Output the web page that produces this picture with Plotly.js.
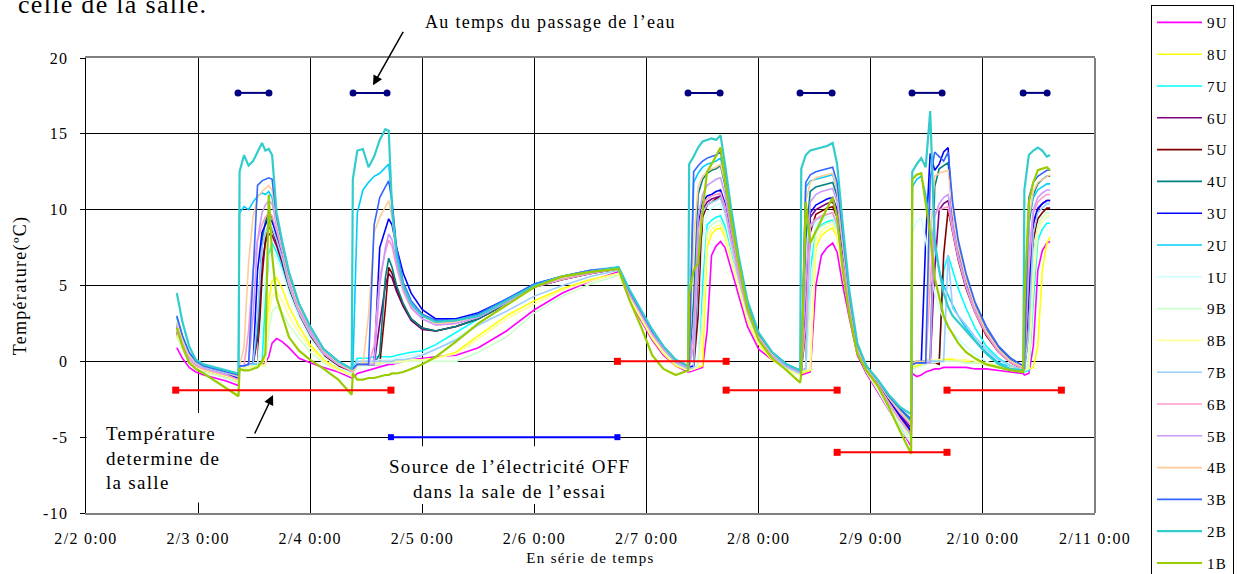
<!DOCTYPE html>
<html><head><meta charset="utf-8">
<script src="https://cdn.plot.ly/plotly-3.0.1.min.js"></script>
<style>html,body{margin:0;padding:0;background:#fff;overflow:hidden}#chart{width:1237px;height:574px}svg text{letter-spacing:1.3px}</style>
</head><body><div id="chart"></div>
<script>
// elapsed time since 2/2 0:00, in days
const elapsedDays = [
 0.81, 0.86, 0.92, 0.98, 1.05, 1.15, 1.25, 1.36,
 1.37, 1.41, 1.45, 1.49, 1.53, 1.57, 1.60, 1.63, 1.66, 1.70, 1.75, 1.81, 1.90, 2.00, 2.12, 2.25, 2.37,
 2.38, 2.42, 2.47, 2.52, 2.57, 2.62, 2.67, 2.70, 2.73, 2.77, 2.83, 2.90, 3.00, 3.12, 3.30, 3.50, 3.75, 4.00, 4.25, 4.50, 4.75,
 4.85, 4.95, 5.05, 5.15, 5.26, 5.37, 5.38, 5.42, 5.46, 5.50, 5.54, 5.58, 5.62, 5.66, 5.70, 5.75, 5.82, 5.90, 6.00, 6.12, 6.25, 6.37,
 6.38, 6.42, 6.46, 6.51, 6.56, 6.61, 6.66, 6.70, 6.75, 6.81, 6.88, 6.96, 7.06, 7.16, 7.26, 7.36,
 7.37, 7.41, 7.45, 7.49, 7.53, 7.57, 7.61, 7.65, 7.69, 7.73, 7.78, 7.85, 7.93, 8.03, 8.14, 8.25, 8.36,
 8.37, 8.41, 8.45, 8.49, 8.53, 8.57, 8.60];

const v9U = [
 0.9, 0.2, -0.4, -0.7, -0.9, -1.1, -1.3, -1.6,
 -0.4, -0.3, -0.3, -0.2, -0.2, -0.2, -0.1, 0.3, 1.2, 1.5, 1.3, 0.9, 0.2, -0.1, -0.4, -0.7, -1.1,
 -1.1, -0.8, -0.7, -0.6, -0.5, -0.4, -0.3, -0.2, -0.2, -0.1, 0.0, 0.1, 0.2, 0.3, 0.4, 0.9, 2.0, 3.4, 4.5, 5.3, 5.9,
 4.0, 2.7, 1.4, 0.4, -0.3, -0.7, -0.7, -0.6, -0.5, -0.4, 2.0, 7.0, 7.6, 7.9, 7.5, 6.2, 4.2, 2.3, 0.8, 0.1, -0.4, -0.8,
 -0.9, -0.8, -0.7, 5.0, 7.0, 7.5, 7.8, 7.2, 5.0, 2.8, 0.4, -0.8, -2.0, -3.2, -4.3, -5.6,
 -0.8, -1.0, -0.9, -0.7, -0.6, -0.5, -0.5, -0.4, -0.4, -0.4, -0.4, -0.4, -0.5, -0.5, -0.6, -0.7, -0.8,
 -0.9, -0.8, 1.0, 6.0, 7.3, 7.8, 7.9];
const v8U = [
 1.7, 0.9, 0.0, -0.4, -0.6, -0.8, -1.0, -1.3,
 -0.4, -0.3, -0.3, -0.3, -0.2, -0.2, 0.5, 4.0, 5.3, 5.5, 4.8, 3.6, 2.3, 1.1, 0.1, -0.5, -0.9,
 -0.9, -0.1, -0.1, -0.1, -0.1, 0.0, 0.0, 0.0, 0.0, 0.0, 0.0, 0.1, 0.1, 0.2, 0.6, 1.7, 3.0, 4.0, 4.8, 5.4, 5.8,
 4.1, 2.8, 1.5, 0.5, -0.3, -0.6, -0.6, -0.5, -0.4, -0.3, 7.5, 8.4, 8.7, 8.8, 8.2, 6.8, 4.8, 2.7, 1.1, 0.1, -0.5, -0.9,
 -0.8, -0.7, -0.6, 7.5, 8.3, 8.6, 8.8, 8.2, 5.9, 3.1, 0.6, -0.6, -1.7, -2.9, -4.1, -5.1,
 -0.4, -0.3, -0.2, -0.1, 0.0, 0.0, 0.0, 0.1, 0.1, 0.1, 0.0, 0.0, -0.1, -0.2, -0.3, -0.4, -0.5,
 -0.6, -0.5, -0.4, 1.0, 6.0, 7.8, 8.2];
const v7U = [
 2.5, 1.3, 0.3, -0.2, -0.4, -0.6, -0.8, -1.1,
 -0.3, -0.3, -0.2, -0.2, -0.2, -0.1, 4.0, 7.0, 7.8, 7.2, 6.2, 4.7, 3.0, 1.6, 0.4, -0.3, -0.7,
 -0.6, 0.2, 0.2, 0.2, 0.3, 0.3, 0.3, 0.3, 0.3, 0.4, 0.5, 0.6, 0.7, 1.1, 1.9, 2.8, 4.0, 5.0, 5.5, 5.9, 6.2,
 4.3, 3.0, 1.7, 0.7, -0.1, -0.5, -0.5, -0.4, -0.3, 5.0, 9.0, 9.3, 9.5, 9.6, 8.9, 7.3, 5.1, 3.0, 1.3, 0.2, -0.4, -0.8,
 -0.7, -0.6, 6.0, 8.6, 9.0, 9.2, 9.3, 8.6, 6.2, 3.3, 0.7, -0.6, -1.6, -2.8, -3.9, -4.8,
 -0.2, -0.1, 0.0, 0.0, 0.0, 0.1, 0.1, 6.0, 7.0, 6.0, 4.8, 3.5, 2.2, 1.0, 0.2, -0.3, -0.6,
 -0.7, -0.6, 4.0, 8.0, 8.7, 9.1, 9.1];
const v6U = [
 1.9, 1.0, 0.1, -0.3, -0.5, -0.7, -0.9, -1.2,
 -0.3, -0.3, -0.3, -0.2, 1.5, 6.5, 7.8, 8.4, 8.3, 7.6, 6.5, 4.9, 3.1, 1.8, 0.4, -0.3, -0.7,
 -0.7, -0.2, -0.2, -0.2, -0.2, 2.5, 5.0, 5.8, 5.5, 4.6, 3.6, 2.7, 2.1, 2.0, 2.3, 2.8, 3.8, 4.9, 5.4, 5.8, 6.1,
 4.4, 3.1, 1.8, 0.8, -0.1, -0.5, -0.5, -0.4, 6.0, 10.0, 10.5, 10.7, 10.8, 10.9, 10.0, 8.1, 5.6, 3.2, 1.5, 0.3, -0.3, -0.7,
 -0.6, 2.0, 9.5, 10.0, 10.2, 10.4, 10.5, 9.8, 7.0, 3.7, 0.8, -0.5, -1.4, -2.5, -3.5, -4.4,
 -0.2, -0.1, -0.1, -0.1, -0.1, 6.0, 10.0, 10.4, 10.6, 8.8, 6.9, 5.0, 3.3, 1.8, 0.7, -0.1, -0.5,
 -0.6, 4.0, 9.0, 10.0, 10.4, 10.6, 10.6];
const v5U = [
 1.8, 0.9, 0.0, -0.4, -0.6, -0.8, -1.0, -1.3,
 -0.4, -0.4, -0.3, -0.3, -0.3, 5.5, 8.0, 8.8, 8.7, 7.8, 6.6, 4.9, 3.1, 1.7, 0.4, -0.3, -0.7,
 -0.7, -0.2, -0.2, -0.2, -0.2, -0.2, 3.5, 6.2, 5.8, 4.8, 3.7, 2.8, 2.2, 2.0, 2.3, 2.8, 3.8, 4.9, 5.4, 5.8, 6.1,
 4.4, 3.1, 1.8, 0.8, -0.1, -0.5, -0.5, -0.4, 3.0, 9.5, 10.3, 10.5, 10.7, 10.8, 10.0, 8.0, 5.5, 3.2, 1.4, 0.3, -0.4, -0.8,
 -0.6, -0.5, 8.5, 9.7, 9.9, 10.1, 10.2, 9.5, 6.8, 3.6, 0.8, -0.5, -1.5, -2.6, -3.7, -4.7,
 -0.2, -0.1, -0.1, -0.1, -0.1, -0.1, -0.2, 7.0, 10.0, 8.5, 6.7, 4.8, 3.2, 1.7, 0.6, -0.1, -0.5,
 -0.6, 2.0, 8.0, 9.4, 9.8, 10.1, 10.1];
const v4U = [
 2.2, 1.2, 0.3, -0.1, -0.3, -0.5, -0.7, -1.0,
 -0.3, -0.3, -0.2, -0.2, 2.0, 8.0, 9.2, 9.8, 9.5, 8.2, 6.9, 5.1, 3.2, 1.9, 0.5, -0.2, -0.6,
 -0.6, -0.2, -0.2, -0.2, -0.2, 0.5, 5.5, 6.8, 6.2, 5.0, 3.8, 2.8, 2.2, 2.0, 2.3, 2.8, 3.8, 4.9, 5.4, 5.8, 6.1,
 4.5, 3.2, 1.9, 0.9, 0.0, -0.4, -0.4, 4.0, 11.0, 12.0, 12.4, 12.6, 12.7, 12.9, 11.6, 9.2, 6.3, 3.6, 1.7, 0.5, -0.2, -0.6,
 -0.5, 8.0, 11.2, 11.5, 11.6, 11.7, 11.8, 10.9, 7.6, 4.0, 0.9, -0.3, -1.2, -2.3, -3.2, -3.9,
 -0.1, 0.0, 0.0, 0.0, 0.1, 11.5, 12.7, 12.9, 13.1, 10.0, 7.6, 5.5, 3.7, 2.1, 0.9, 0.1, -0.4,
 -0.5, 9.0, 11.0, 11.7, 12.0, 12.2, 12.2];
const v3U = [
 2.3, 1.2, 0.2, -0.2, -0.4, -0.6, -0.8, -1.1,
 -0.3, -0.3, -0.2, -0.2, 6.0, 8.5, 9.0, 9.5, 9.2, 8.4, 7.1, 5.3, 3.4, 2.0, 0.6, -0.2, -0.6,
 -0.6, -0.2, -0.2, -0.2, -0.2, 7.5, 8.8, 9.4, 9.0, 7.5, 5.8, 4.5, 3.4, 2.8, 2.8, 3.2, 4.1, 5.1, 5.6, 6.0, 6.2,
 4.5, 3.2, 1.9, 0.9, 0.0, -0.4, -0.4, -0.3, 9.0, 10.5, 10.9, 11.0, 11.2, 11.3, 10.4, 8.4, 5.8, 3.4, 1.6, 0.4, -0.3, -0.7,
 -0.6, 4.0, 9.8, 10.3, 10.5, 10.7, 10.8, 10.0, 7.1, 3.8, 0.9, -0.4, -1.4, -2.5, -3.6, -4.6,
 -0.2, -0.1, -0.1, 8.0, 13.7, 12.6, 13.0, 13.8, 14.1, 9.0, 7.2, 5.2, 3.5, 2.0, 0.8, 0.0, -0.4,
 -0.6, 5.0, 9.2, 10.1, 10.4, 10.6, 10.6];
const v2U = [
 2.9, 1.6, 0.5, -0.1, -0.3, -0.5, -0.7, -0.9,
 9.8, 10.2, 10.0, 10.5, 10.9, 11.1, 11.0, 11.2, 10.8, 9.0, 7.5, 5.6, 3.6, 2.2, 0.8, 0.0, -0.5,
 -0.5, 9.8, 11.3, 11.8, 12.2, 12.4, 12.8, 13.0, 10.5, 7.2, 5.0, 3.8, 3.0, 2.6, 2.7, 3.1, 4.1, 5.1, 5.6, 6.0, 6.2,
 4.6, 3.3, 2.0, 1.0, 0.1, -0.3, -0.3, 11.8, 12.4, 12.8, 13.0, 13.1, 13.2, 13.4, 12.2, 9.8, 6.6, 3.8, 1.8, 0.6, -0.2, -0.6,
 -0.5, 11.5, 11.9, 12.0, 12.1, 12.2, 12.3, 11.3, 7.9, 4.2, 1.0, -0.3, -1.3, -2.4, -3.3, -4.0,
 11.5, 12.0, 12.2, 11.0, 9.0, 7.5, 6.0, 5.0, 4.3, 3.7, 3.0, 2.2, 1.4, 0.6, -0.1, -0.4, -0.6,
 -0.5, 9.5, 10.8, 11.3, 11.5, 11.7, 11.7];
const v1U = [
 2.2, 1.1, 0.1, -0.3, -0.5, -0.7, -0.9, -1.3,
 -0.4, -0.4, -0.3, -0.3, -0.3, 3.0, 5.5, 7.0, 7.2, 6.8, 5.9, 4.5, 2.9, 1.5, 0.3, -0.4, -0.8,
 -0.8, 0.0, 0.0, 0.0, 0.0, 0.1, 0.1, 0.1, 0.1, 0.2, 0.3, 0.4, 0.5, 0.8, 1.5, 2.5, 3.8, 5.0, 5.6, 6.0, 6.3,
 4.3, 3.0, 1.7, 0.7, -0.1, -0.5, -0.5, -0.4, -0.3, 8.0, 9.8, 10.1, 10.3, 10.4, 9.6, 7.8, 5.4, 3.1, 1.4, 0.3, -0.4, -0.8,
 -0.7, -0.6, 7.0, 9.0, 9.3, 9.5, 9.6, 8.8, 6.3, 3.4, 0.7, -0.6, -1.8, -3.1, -4.2, -5.2,
 8.5, 9.2, 9.5, 8.0, 6.0, 4.5, 3.5, 2.8, 2.3, 1.9, 1.5, 1.0, 0.5, 0.0, -0.3, -0.5, -0.7,
 -0.7, 0.5, 7.0, 8.8, 9.2, 9.5, 9.5];
const v9B = [
 1.6, 0.8, -0.1, -0.5, -0.7, -0.9, -1.1, -1.4,
 -0.5, -0.5, -0.4, -0.4, -0.4, -0.3, -0.3, 2.0, 3.3, 3.6, 3.2, 2.4, 1.5, 0.6, -0.1, -0.6, -1.0,
 -1.0, -0.3, -0.3, -0.2, -0.2, -0.2, -0.1, -0.1, -0.1, -0.1, 0.0, 0.0, 0.0, 0.0, 0.0, 0.6, 1.6, 3.2, 4.3, 5.1, 5.7,
 4.2, 2.9, 1.6, 0.6, -0.2, -0.6, -0.6, -0.5, -0.4, 3.0, 8.6, 9.0, 9.2, 9.3, 8.6, 7.1, 5.0, 2.9, 1.2, 0.2, -0.5, -0.9,
 -0.7, -0.6, 4.0, 8.5, 8.9, 9.1, 9.2, 8.5, 6.1, 3.3, 0.6, -0.7, -1.9, -3.2, -4.4, -5.4,
 -0.5, -0.4, -0.3, -0.2, -0.1, -0.1, 0.0, 0.0, 0.0, 0.0, 0.0, -0.1, -0.1, -0.2, -0.4, -0.5, -0.6,
 -0.7, 0.0, 7.0, 9.0, 9.5, 9.8, 9.8];
const v8B = [
 1.8, 0.9, 0.0, -0.4, -0.6, -0.8, -1.0, -1.3,
 -0.4, -0.4, -0.4, -0.3, -0.3, -0.3, -0.2, 3.0, 4.3, 4.6, 4.0, 3.0, 1.9, 0.9, 0.0, -0.6, -0.9,
 -0.9, -0.1, -0.1, -0.1, -0.1, -0.1, 0.0, 0.0, 0.0, 0.0, 0.0, 0.1, 0.1, 0.2, 0.5, 1.5, 2.8, 3.8, 4.7, 5.3, 5.8,
 4.2, 2.9, 1.6, 0.6, -0.2, -0.6, -0.6, -0.5, -0.4, 2.0, 8.2, 8.7, 8.9, 9.0, 8.4, 6.9, 4.9, 2.8, 1.2, 0.2, -0.5, -0.9,
 -0.7, -0.6, -0.5, 8.0, 8.6, 8.9, 9.0, 8.4, 6.0, 3.2, 0.6, -0.6, -1.7, -2.9, -4.0, -5.0,
 -0.3, -0.2, -0.1, 0.0, 0.1, 0.1, 0.1, 0.2, 0.2, 0.2, 0.1, 0.1, 0.0, -0.1, -0.3, -0.4, -0.5,
 -0.6, -0.5, 5.0, 8.6, 9.2, 9.6, 9.6];
const v7B = [
 2.3, 1.2, 0.2, -0.2, -0.4, -0.6, -0.8, -1.0,
 -0.3, -0.3, -0.2, -0.2, 3.0, 7.5, 8.5, 9.0, 8.8, 8.0, 6.8, 5.0, 3.2, 1.8, 0.5, -0.2, -0.6,
 -0.6, 0.0, 0.0, 0.0, 0.0, 0.0, 0.0, 0.0, 0.0, 0.1, 0.1, 0.2, 0.4, 0.8, 1.4, 2.4, 3.3, 4.3, 5.0, 5.6, 6.0,
 4.4, 3.1, 1.8, 0.8, -0.1, -0.5, -0.5, -0.4, 7.0, 9.8, 10.3, 10.5, 10.6, 10.8, 9.9, 8.0, 5.5, 3.2, 1.4, 0.3, -0.4, -0.8,
 -0.6, -0.5, 8.8, 9.3, 9.5, 9.7, 9.8, 9.0, 6.5, 3.5, 0.8, -0.5, -1.6, -2.8, -3.9, -4.9,
 -0.2, -0.1, -0.1, 0.0, 0.0, 0.0, 0.0, 0.0, 7.0, 3.5, 3.0, 2.4, 1.6, 0.8, 0.1, -0.3, -0.6,
 -0.6, 2.0, 8.5, 9.8, 10.1, 10.4, 10.4];
const v6B = [
 2.0, 1.0, 0.1, -0.3, -0.5, -0.7, -0.9, -1.2,
 -0.3, -0.3, 2.0, 6.0, 8.0, 9.0, 9.5, 9.8, 9.6, 8.6, 7.2, 5.3, 3.3, 1.9, 0.5, -0.2, -0.7,
 -0.7, -0.2, -0.2, -0.2, 1.0, 5.5, 7.2, 8.0, 7.6, 6.2, 4.6, 3.5, 2.8, 2.4, 2.5, 2.9, 3.9, 4.9, 5.4, 5.8, 6.1,
 4.4, 3.1, 1.8, 0.8, 0.0, -0.4, -0.4, 1.0, 8.5, 10.2, 10.7, 10.9, 11.0, 11.1, 10.2, 8.2, 5.7, 3.3, 1.5, 0.4, -0.3, -0.7,
 -0.6, 2.5, 9.0, 9.4, 9.6, 9.7, 9.8, 9.0, 6.5, 3.5, 0.8, -0.5, -1.5, -2.7, -3.8, -4.8,
 -0.2, -0.1, -0.1, 0.0, 5.0, 9.8, 10.0, 10.1, 10.2, 8.6, 6.8, 4.9, 3.2, 1.8, 0.6, -0.1, -0.5,
 -0.6, 6.0, 9.8, 10.5, 10.8, 11.0, 11.0];
const v5B = [
 2.4, 1.3, 0.3, -0.1, -0.3, -0.5, -0.7, -0.9,
 -0.3, -0.3, -0.2, 3.0, 8.0, 9.8, 10.3, 10.6, 10.4, 9.0, 7.4, 5.5, 3.5, 2.0, 0.6, -0.2, -0.6,
 -0.6, -0.2, -0.2, -0.2, -0.2, 5.0, 7.5, 8.4, 8.0, 6.5, 4.8, 3.6, 2.8, 2.4, 2.5, 2.9, 3.9, 4.9, 5.5, 5.9, 6.1,
 4.5, 3.2, 1.9, 0.9, 0.0, -0.4, -0.4, 2.0, 9.5, 11.0, 11.6, 11.8, 12.0, 12.1, 11.0, 8.8, 6.0, 3.5, 1.6, 0.4, -0.3, -0.7,
 -0.6, 5.0, 10.5, 11.0, 11.2, 11.3, 11.4, 10.5, 7.4, 3.9, 0.9, -0.4, -1.3, -2.4, -3.4, -4.2,
 -0.2, -0.1, -0.1, -0.1, -0.1, 9.5, 10.4, 10.8, 11.0, 9.0, 7.0, 5.0, 3.4, 1.9, 0.7, 0.0, -0.4,
 -0.6, 7.0, 10.0, 10.8, 11.1, 11.3, 11.3];
const v4B = [
 2.6, 1.4, 0.4, -0.1, -0.3, -0.5, -0.7, -1.0,
 -0.3, 1.0, 6.5, 9.5, 10.8, 11.2, 11.4, 11.6, 11.3, 9.2, 7.6, 5.6, 3.6, 2.2, 0.7, -0.1, -0.6,
 -0.6, -0.2, -0.2, 3.0, 8.5, 9.5, 10.2, 10.6, 9.5, 7.0, 5.0, 3.8, 3.0, 2.5, 2.6, 3.0, 4.0, 5.0, 5.5, 5.9, 6.1,
 4.6, 3.3, 2.0, 1.0, 0.1, -0.3, -0.3, 8.0, 11.5, 12.2, 12.5, 12.7, 12.8, 13.0, 11.8, 9.4, 6.4, 3.7, 1.7, 0.5, -0.2, -0.6,
 -0.5, 10.5, 11.8, 12.1, 12.2, 12.3, 12.4, 11.3, 7.8, 4.1, 1.0, -0.4, -1.3, -2.4, -3.3, -4.1,
 -0.1, 0.0, 0.0, 0.0, 8.0, 12.2, 12.4, 12.5, 12.6, 9.8, 7.5, 5.4, 3.6, 2.0, 0.8, 0.0, -0.4,
 -0.5, 9.5, 11.2, 11.8, 12.0, 12.2, 12.3];
const v3B = [
 3.0, 1.7, 0.6, 0.0, -0.3, -0.5, -0.7, -0.9,
 -0.3, -0.3, -0.2, 6.0, 11.6, 11.9, 12.0, 12.1, 12.0, 9.5, 7.8, 5.8, 3.8, 2.3, 0.8, 0.0, -0.5,
 -0.5, -0.2, -0.2, -0.2, 9.0, 10.8, 11.5, 11.9, 10.5, 7.5, 5.2, 4.0, 3.1, 2.7, 2.7, 3.1, 4.1, 5.1, 5.6, 6.0, 6.2,
 4.6, 3.3, 2.0, 1.0, 0.1, -0.3, -0.3, 12.5, 12.9, 13.2, 13.4, 13.5, 13.6, 13.8, 12.5, 10.0, 6.8, 3.9, 1.8, 0.6, -0.2, -0.6,
 -0.5, 11.8, 12.3, 12.5, 12.6, 12.7, 12.8, 11.8, 8.3, 4.3, 1.1, -0.3, -1.2, -2.3, -3.1, -3.8,
 -0.2, -0.1, -0.1, -0.1, 12.0, 13.8, 13.5, 13.2, 13.8, 10.5, 8.0, 5.8, 3.9, 2.3, 1.0, 0.2, -0.3,
 -0.5, 10.8, 11.8, 12.2, 12.4, 12.6, 12.6];
const v2B = [
 4.5, 2.6, 1.0, 0.1, -0.2, -0.4, -0.6, -0.8,
 12.5, 13.6, 12.9, 13.2, 13.8, 14.4, 13.9, 14.0, 13.6, 9.8, 7.9, 5.9, 3.8, 2.3, 0.8, 0.0, -0.5,
 12.0, 13.9, 14.0, 12.8, 13.5, 14.6, 15.3, 15.2, 10.0, 7.0, 5.0, 3.8, 3.0, 2.6, 2.7, 3.0, 4.0, 5.0, 5.6, 5.9, 6.2,
 4.7, 3.4, 2.1, 1.0, 0.1, -0.3, 13.0, 13.5, 14.1, 14.5, 14.6, 14.7, 14.6, 14.9, 13.0, 10.3, 7.0, 4.0, 1.9, 0.6, -0.2, -0.6,
 12.7, 13.6, 13.9, 14.0, 14.1, 14.2, 14.4, 13.0, 9.0, 4.6, 1.2, -0.3, -1.2, -2.2, -3.0, -3.5,
 12.5, 13.0, 13.4, 12.8, 16.5, 8.0, 6.0, 4.5, 3.6, 3.0, 2.6, 2.0, 1.3, 0.5, -0.2, -0.5, -0.6,
 11.3, 13.6, 13.9, 14.1, 13.9, 13.5, 13.6];
const v1B = [
 2.2, 1.0, -0.1, -0.5, -0.8, -1.3, -1.8, -2.3,
 -0.5, -0.6, -0.6, -0.5, -0.4, 0.0, 0.5, 11.0, 7.0, 4.2, 3.0, 1.6, 0.7, 0.1, -0.5, -1.2, -2.2,
 -0.8, -1.2, -1.2, -1.1, -1.1, -1.0, -0.9, -0.9, -0.8, -0.8, -0.7, -0.5, -0.2, 0.3, 1.3, 2.5, 3.7, 4.9, 5.6, 5.9, 6.1,
 4.0, 2.3, 0.4, -0.5, -0.9, -0.6, 4.5, 6.0, 6.5, 10.0, 12.5, 13.0, 13.6, 14.1, 12.0, 9.5, 6.5, 3.5, 1.4, 0.2, -0.6, -1.4,
 -0.8, 10.5, 7.8, 8.6, 9.4, 10.1, 10.8, 9.5, 6.0, 3.0, 0.5, -0.6, -1.6, -3.0, -4.6, -6.1,
 12.0, 12.3, 12.4, 10.5, 8.4, 5.5, 4.2, 3.0, 2.3, 1.8, 1.2, 0.6, 0.2, -0.2, -0.4, -0.6, -0.7,
 4.0, 10.5, 11.8, 12.6, 12.7, 12.8, 12.6];

const seriesNames = ['9U','8U','7U','6U','5U','4U','3U','2U','1U','9B','8B','7B','6B','5B','4B','3B','2B','1B'];
const seriesValues = [v9U,v8U,v7U,v6U,v5U,v4U,v3U,v2U,v1U,v9B,v8B,v7B,v6B,v5B,v4B,v3B,v2B,v1B];
const seriesColors = ['#FF00FF','#FFFF00','#00FFFF','#800080','#800000','#008080','#0000FF','#00CCFF','#CCFFFF',
                      '#CCFFCC','#FFFF99','#99CCFF','#FF99CC','#CC99FF','#FFCC99','#3366FF','#33CCCC','#99CC00'];

// reference markers (elapsed days)
const waterStart = [1.356, 2.382, 5.370, 6.369, 7.368, 8.359];
const waterEnd   = [1.632, 2.685, 5.656, 6.655, 7.636, 8.573];
const waterLevel = 17.7;
const roomStart = [0.80, 4.74, 5.71, 6.70, 7.68];
const roomEnd   = [2.72, 5.71, 6.70, 7.68, 8.70];
const roomTemp  = [-1.9, 0.0, -1.9, -6.0, -1.9];
const powerOffStart = [2.72];
const powerOffEnd   = [4.74];
const powerOffLevel = -5;

const xTickDays = [0,1,2,3,4,5,6,7,8,9];
const xTickText = ['2/2 0:00','2/3 0:00','2/4 0:00','2/5 0:00','2/6 0:00','2/7 0:00','2/8 0:00','2/9 0:00','2/10 0:00','2/11 0:00'];
const yTickVals = [-10,-5,0,5,10,15,20];
const yTickText = ['-10','-5','0','5','10','15','20'];

const DAY = 86400000;
const BASE = Date.UTC(2005, 1, 2);
const toTime = d => BASE + d * DAY;
const xTimes = elapsedDays.map(toTime);

const FONT = 'Liberation Serif';
const traces = [];
seriesNames.forEach((name, i) => {
  if (seriesValues[i].length !== xTimes.length) console.error('length mismatch', name, seriesValues[i].length);
  const thick = (name === '1B' || name === '2B');
  traces.push({
    type: 'scatter', mode: 'lines', name: name, legendgroup: name,
    x: xTimes, y: seriesValues[i],
    line: {color: seriesColors[i], width: thick ? 2.2 : 1.6},
    hoverinfo: 'skip'
  });
});

function segTrace(starts, ends, levels, color, symbol, size) {
  const x = [], y = [];
  starts.forEach((s, i) => {
    const lv = Array.isArray(levels) ? levels[i] : levels;
    x.push(toTime(s), toTime(ends[i]), null);
    y.push(lv, lv, null);
  });
  return {type:'scatter', mode:'lines+markers', x, y, showlegend:false, hoverinfo:'skip',
          line:{color, width:2}, marker:{color, symbol, size}};
}
traces.push(segTrace(waterStart, waterEnd, waterLevel, '#000080', 'circle', 7));
traces.push(segTrace(roomStart, roomEnd, roomTemp, '#FF0000', 'square', 7));
traces.push(segTrace(powerOffStart, powerOffEnd, powerOffLevel, '#0000FF', 'square', 6));

const layout = {
  width: 1237, height: 574,
  margin: {l: 86, r: 142, t: 58, b: 61},
  paper_bgcolor: '#fff', plot_bgcolor: '#fff',
  font: {family: FONT, color: '#000', size: 15},
  showlegend: true,
  legend: {
    xref: 'container', yref: 'container', x: 0.9305, y: 0.991, xanchor: 'left', yanchor: 'top',
    bordercolor: '#000', borderwidth: 1, bgcolor: '#fff',
    font: {family: FONT, size: 15, color: '#000'},
    traceorder: 'grouped', tracegroupgap: 9.3, itemwidth: 45, maxheight: 2000
  },
  xaxis: {
    type: 'date', range: [toTime(0), toTime(9)],
    tickvals: xTickDays.map(toTime), ticktext: xTickText,
    showgrid: true, gridcolor: '#000', gridwidth: 1, zeroline: false,
    showline: true, linecolor: '#808080', linewidth: 2, mirror: true,
    ticks: '', ticklabelstandoff: 10, tickfont: {family: FONT, size: 16},
    title: {text: 'En série de temps', font: {family: FONT, size: 15}, standoff: 6}
  },
  yaxis: {
    range: [-10, 20], tickvals: yTickVals, ticktext: yTickText,
    showgrid: true, gridcolor: '#000', gridwidth: 1, zeroline: false,
    showline: true, linecolor: '#000', linewidth: 1.5,
    ticks: 'outside', ticklen: 5, tickcolor: '#000', ticklabelstandoff: 8,
    tickfont: {family: FONT, size: 16},
    title: {text: 'Température(ºC)', font: {family: FONT, size: 18}, standoff: 12}
  },
  shapes: [
    {type:'rect', layer:'between', xref:'x', yref:'y', x0: toTime(0.005), x1: toTime(1.43), y0: -9.3, y1: -3.4,
     fillcolor:'#fff', line:{width:0}},
    {type:'rect', layer:'between', xref:'x', yref:'y', x0: toTime(2.667), x1: toTime(4.94), y0: -9.4, y1: -5.6,
     fillcolor:'#fff', line:{width:0}},
    {type:'line', layer:'above', xref:'paper', yref:'paper', x0:1, x1:1, y0:0, y1:1, line:{color:'#808080', width:2}}
  ],
  annotations: [
    {xref:'paper', yref:'paper', x:-0.0694, y:1.118, xanchor:'left', yanchor:'middle', showarrow:false,
     text:'celle de la salle.', font:{family: FONT, size: 26, color:'#000'}},
    {xref:'paper', yref:'paper', x:0.4608, y:1.079, xanchor:'center', yanchor:'middle', showarrow:false,
     text:'Au temps du passage de l’eau', font:{family: FONT, size: 18, color:'#000'}},
    {xref:'x', yref:'y', x: toTime(2.56), y: 18.2, text:'', showarrow:true, ax: 31, ay: -55,
     arrowhead: 2, arrowsize: 1.3, arrowwidth: 1.5, arrowcolor:'#000'},
    {xref:'x', yref:'y', x: toTime(1.668), y: -2.22, text:'', showarrow:true, ax: -19, ay: 40,
     arrowhead: 2, arrowsize: 1.3, arrowwidth: 1.5, arrowcolor:'#000'},
    {xref:'paper', yref:'paper', x:0.0178, y:0.121, xanchor:'left', yanchor:'middle', align:'left', showarrow:false,
     text:'Température<br>determine de<br>la salle', font:{family: FONT, size: 19, color:'#000'}},
    {xref:'paper', yref:'paper', x:0.4202, y:0.0747, xanchor:'center', yanchor:'middle', align:'center', showarrow:false,
     text:'Source de l’électricité OFF<br>dans la sale de l’essai', font:{family: FONT, size: 19, color:'#000'}}
  ]
};

Plotly.newPlot('chart', traces, layout, {displayModeBar: false, staticPlot: true});
</script>
</body></html>
